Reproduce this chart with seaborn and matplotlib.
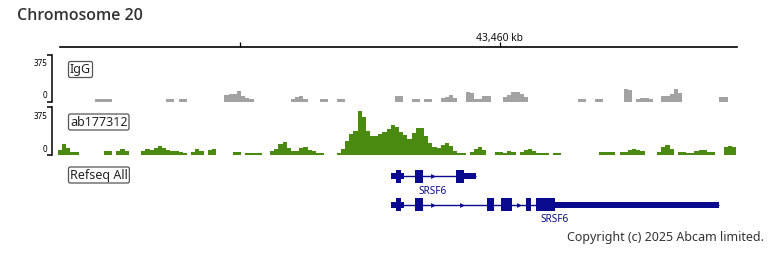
import numpy as np
import pandas as pd
import matplotlib
matplotlib.use("Agg")
import matplotlib.pyplot as plt
import seaborn as sns

# ---------------- data ----------------
CHROM_TITLE = "Chromosome 20"
RULER_TICKS_KB = [43455, 43460]
RULER_LABEL_KB = 43460
RULER_LABEL = "43,460 kb"
SCALE_MAX = 375

BIN_START_KB = 43451.5
BIN_KB = 0.08

IGG_VALUES = [
    0, 0, 0, 0, 0, 0, 0, 0, 0, 24,
    24, 24, 24, 0, 0, 0, 0, 0, 0, 0,
    0, 0, 0, 0, 0, 0, 24, 24, 0, 24,
    24, 0, 0, 0, 0, 0, 0, 0, 0, 0,
    56, 64, 64, 88, 48, 32, 24, 0, 0, 0,
    0, 0, 0, 0, 0, 0, 24, 40, 48, 24,
    0, 0, 0, 24, 24, 0, 0, 24, 24, 0,
    0, 0, 0, 0, 0, 0, 0, 0, 0, 0,
    0, 48, 48, 0, 0, 24, 24, 0, 24, 24,
    0, 0, 32, 40, 56, 32, 0, 0, 80, 72,
    24, 24, 48, 48, 0, 0, 0, 40, 56, 80,
    80, 64, 40, 0, 0, 0, 0, 0, 0, 0,
    0, 0, 0, 0, 0, 24, 24, 0, 0, 24,
    24, 0, 0, 0, 0, 0, 104, 96, 0, 24,
    32, 32, 24, 0, 0, 48, 48, 64, 104, 72,
    0, 0, 0, 0, 0, 0, 0, 0, 0, 40,
    40, 0, 0,
]

AB_VALUES = [
    39, 86, 55, 23, 23, 0, 0, 0, 0, 0,
    0, 31, 31, 0, 31, 47, 31, 0, 0, 0,
    31, 47, 39, 55, 70, 55, 39, 31, 31, 23,
    16, 0, 23, 47, 31, 0, 39, 47, 0, 0,
    0, 0, 23, 23, 0, 16, 16, 16, 16, 0,
    0, 31, 47, 86, 101, 55, 31, 31, 55, 62,
    39, 31, 16, 16, 0, 0, 0, 16, 47, 109,
    164, 187, 343, 296, 187, 148, 148, 164, 179, 203,
    234, 218, 179, 156, 125, 172, 211, 211, 148, 94,
    62, 55, 78, 94, 70, 31, 16, 16, 0, 23,
    47, 62, 39, 0, 0, 23, 23, 16, 31, 23,
    0, 23, 39, 47, 31, 16, 16, 16, 0, 16,
    16, 0, 0, 0, 0, 0, 0, 0, 0, 0,
    23, 23, 23, 23, 0, 23, 23, 39, 47, 39,
    31, 0, 0, 0, 23, 62, 78, 47, 0, 23,
    23, 16, 16, 31, 39, 39, 23, 23, 0, 0,
    62, 70, 62,
]

TRACK_NAMES = ["IgG", "ab177312"]
GENE_TRACK_NAME = "Refseq All"
GENE_NAME = "SRSF6"

# transcript 1
T1_EXON_START = [43457.904, 43458.000, 43458.096, 43458.365, 43459.154, 43459.308]
T1_EXON_END = [43458.000, 43458.096, 43458.154, 43458.519, 43459.308, 43459.538]
T1_EXON_KIND = ["utr", "cds", "utr", "cds", "cds", "utr"]
T1_ARROWS = [43458.712]
T1_LABEL_KB = 43458.712
# transcript 2
T2_EXON_START = [43457.904, 43458.000, 43458.096, 43458.365, 43459.750, 43460.019,
                 43460.500, 43460.692, 43461.058]
T2_EXON_END = [43458.000, 43458.096, 43458.154, 43458.519, 43459.885, 43460.231,
               43460.596, 43461.058, 43464.212]
T2_EXON_KIND = ["utr", "cds", "utr", "cds", "cds", "cds", "cds", "cds", "utr"]
T2_ARROWS = [43458.712, 43459.269, 43460.365]
T2_LABEL_KB = 43461.058

COPYRIGHT = "Copyright (c) 2025 Abcam limited."

# ---------------- style ----------------
sns.set_theme(style="white")
plt.rcParams["font.family"] = ["Noto Sans", "DejaVu Sans"]

W, H = 768, 256
fig = plt.figure(figsize=(W / 100, H / 100), dpi=100)


def rect(x0, y0, x1, y1):
    return [x0 / W, 1 - y1 / H, (x1 - x0) / W, (y1 - y0) / H]


def px2kb(px):
    return 43455 + (px - 240) / 52.0


GREY = "#a2a2a2"
GREEN = "#4a8a10"
NAVY = "#0a0a8e"
TXT = "#222222"

# title
fig.text(17 / W, 1 - 16 / H, CHROM_TITLE, fontsize=11.5, fontweight="semibold",
         family=["Open Sans", "Lato", "DejaVu Sans"],
         color="#333333", ha="left", va="center")

# ruler
axr = fig.add_axes(rect(60, 30, 737, 46.5))
axr.set_xlim(px2kb(60), px2kb(737))
axr.set_ylim(0, 1)
for s in ["top", "left", "right"]:
    axr.spines[s].set_visible(False)
axr.spines["bottom"].set_color("black")
axr.spines["bottom"].set_linewidth(1.2)
axr.set_xticks(RULER_TICKS_KB)
axr.set_yticks([])
axr.tick_params(axis="x", bottom=True, direction="in", length=3.5, width=0.9,
                colors="black", labelbottom=False)
axr.text(RULER_LABEL_KB, 0.5, RULER_LABEL, transform=axr.get_xaxis_transform(),
         ha="center", va="center", fontsize=7.4, color="#111111")
axr.patch.set_alpha(0)

# signal tracks
n_bins = len(AB_VALUES)
centers = BIN_START_KB + BIN_KB * (np.arange(n_bins) + 0.5)
df = pd.DataFrame({"pos": centers, "IgG": IGG_VALUES, "ab177312": AB_VALUES})
bin_range = (BIN_START_KB, BIN_START_KB + BIN_KB * n_bins)

track_specs = [
    ("IgG", GREY, (55, 102), 69.5, 63, 95.5),
    ("ab177312", GREEN, (107, 155), 122, 116.5, 149),
]
for name, color, (ytop, ybot), label_y, y375, y0 in track_specs:
    ax = fig.add_axes(rect(52, ytop, 737, ybot))
    sns.histplot(data=df, x="pos", weights=name, binwidth=BIN_KB,
                 binrange=bin_range, element="step", fill=True, color=color,
                 alpha=1, linewidth=0, ax=ax)
    ax.set_xlim(px2kb(52), px2kb(737))
    ax.set_ylim(0, SCALE_MAX)
    ax.set_xlabel("")
    ax.set_ylabel("")
    for s in ["top", "bottom", "right"]:
        ax.spines[s].set_visible(False)
    ax.spines["left"].set_color("black")
    ax.spines["left"].set_linewidth(1.1)
    ax.set_xticks([])
    ax.set_yticks([0, SCALE_MAX])
    ax.tick_params(axis="y", left=True, direction="out", length=3.5, width=1.1,
                   colors="black", labelleft=False)
    ax.patch.set_alpha(0)
    fig.text(47 / W, 1 - y375 / H, str(SCALE_MAX), fontsize=5.8, ha="right",
             va="center", color="black")
    fig.text(47 / W, 1 - y0 / H, "0", fontsize=5.8, ha="right", va="center",
             color="black")
    fig.text(70 / W, 1 - label_y / H, name, fontsize=9, ha="left", va="center",
             color=TXT,
             bbox=dict(boxstyle="round,pad=0.12,rounding_size=0.15", fc="white",
                       ec="#555555", lw=0.9))

# gene track label
fig.text(70 / W, 1 - 175 / H, GENE_TRACK_NAME, fontsize=9, ha="left", va="center",
         color=TXT,
         bbox=dict(boxstyle="round,pad=0.12,rounding_size=0.15", fc="white",
                   ec="#555555", lw=0.9))

# gene models
axg = fig.add_axes(rect(52, 162, 737, 219))
axg.set_xlim(px2kb(52), px2kb(737))
axg.set_ylim(1.5, -0.5)
axg.axis("off")

CDS_H = 0.46
UTR_H = 0.21
transcripts = [
    (0, T1_EXON_START, T1_EXON_END, T1_EXON_KIND, T1_ARROWS, T1_LABEL_KB),
    (1, T2_EXON_START, T2_EXON_END, T2_EXON_KIND, T2_ARROWS, T2_LABEL_KB),
]
for row, starts, ends, kinds, arrows, lab_kb in transcripts:
    axg.hlines(row, min(starts), max(ends), color=NAVY, lw=1.0)
    for s, e, k in zip(starts, ends, kinds):
        h = CDS_H if k == "cds" else UTR_H
        axg.bar(s, h, width=e - s, bottom=row - h / 2, align="edge",
                color=NAVY, linewidth=0)
    axg.plot(arrows, [row] * len(arrows), linestyle="none", marker=">",
             markersize=3.5, color=NAVY, markeredgewidth=0)
    axg.text(lab_kb, row + 0.52, GENE_NAME, ha="center", va="center",
             fontsize=7.2, color=NAVY)

# copyright
fig.text(764 / W, 1 - 238 / H, COPYRIGHT, fontsize=9, ha="right", va="center",
         color="#333333")

fig.savefig("out.png", dpi=100)
